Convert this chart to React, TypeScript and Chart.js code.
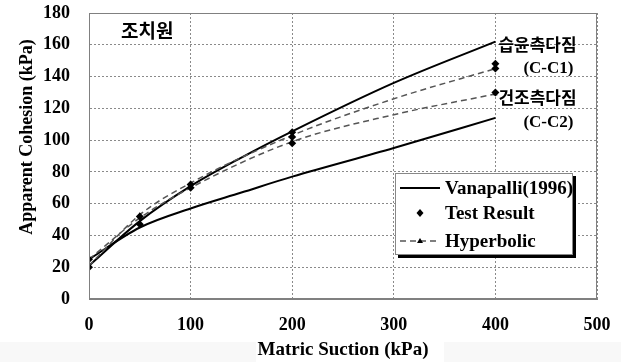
import { useEffect, useRef } from "react";
import { Chart, registerables } from "chart.js";

Chart.register(...registerables);

// ---- data ----
const vanX = [0, 50, 100, 150, 200, 300, 400];
const vanWet = [21, 49, 71, 89, 105.5, 136, 162];
const vanDry = [25, 45, 57, 67, 77, 95, 114];

const hypX = [0, 50, 100, 200, 300, 400];
const hypWet = [21, 53, 73, 103, 126, 145];
const hypDry = [25, 51, 70, 99, 116, 129];
const hypMarked = [0, 50, 100, 200, 400];

const testX = [0, 0, 50, 50, 100, 100, 200, 200, 200, 400, 400, 400];
const testY = [20, 25, 47, 52, 70, 72, 98, 102, 105, 130, 145, 148];

const xTicks = [0, 100, 200, 300, 400, 500];
const yTicks = [0, 20, 40, 60, 80, 100, 120, 140, 160, 180];

const siteLabel = "조치원";
const wetLabel = ["습윤측다짐", "(C-C1)"];
const dryLabel = ["건조측다짐", "(C-C2)"];
const legendLabels = ["Vanapalli(1996)", "Test Result", "Hyperbolic"];
const xTitle = "Matric Suction (kPa)";
const yTitle = "Apparent Cohesion (kPa)";

const SERIF = '"Liberation Serif", "Times New Roman", serif';
const KR = '"Noto Sans CJK KR", sans-serif';
const HYP_COLOR = "#555555";

const pts = (xs: number[], ys: number[]) => xs.map((x, i) => ({ x, y: ys[i] }));

const decorPlugin = {
  id: "decor",
  beforeDraw(chart: any) {
    const { ctx, width, height } = chart;
    ctx.save();
    ctx.fillStyle = "#ffffff";
    ctx.fillRect(0, 0, width, height);
    ctx.fillStyle = "#f8f8f8";
    ctx.fillRect(0, 342, width, height - 342);
    ctx.fillStyle = "#ffffff";
    ctx.fillRect(256, 340, 188, height - 340);
    ctx.restore();
  },
  afterDraw(chart: any) {
    const { ctx, chartArea: ca, scales } = chart;
    const xs = scales.x;
    const ys = scales.y;
    ctx.save();
    // plot frame
    ctx.strokeStyle = "#808080";
    ctx.lineWidth = 1;
    ctx.setLineDash([]);
    ctx.strokeRect(ca.left + 0.5, ca.top + 0.5, ca.right - ca.left - 1, ca.bottom - ca.top - 1);

    // axis titles
    ctx.fillStyle = "#000";
    ctx.font = `bold 19px ${SERIF}`;
    ctx.textAlign = "center";
    ctx.textBaseline = "middle";
    ctx.fillText(xTitle, (ca.left + ca.right) / 2, 350);
    ctx.save();
    ctx.font = `bold 18px ${SERIF}`;
    ctx.translate(27, 137);
    ctx.rotate(-Math.PI / 2);
    ctx.fillText(yTitle, 0, 0);
    ctx.restore();

    // site label
    ctx.font = `bold 19px ${KR}`;
    ctx.textAlign = "left";
    ctx.fillText(siteLabel, 121, 31);

    // curve labels
    const lx = xs.getPixelForValue(400) + 3;
    ctx.font = `bold 17px ${KR}`;
    ctx.fillText(wetLabel[0], lx, ys.getPixelForValue(160));
    ctx.fillText(dryLabel[0], lx, ys.getPixelForValue(127));
    ctx.font = `bold 17px ${SERIF}`;
    ctx.fillText(wetLabel[1], lx + 25, ys.getPixelForValue(145));
    ctx.fillText(dryLabel[1], lx + 25, ys.getPixelForValue(111));

    // legend box
    const bx = 395, by = 173, bw = 178, bh = 82;
    ctx.fillStyle = "#000";
    ctx.fillRect(bx + 3, by + 3, bw, bh);
    ctx.fillStyle = "#fff";
    ctx.fillRect(bx, by, bw, bh);
    ctx.strokeStyle = "#888";
    ctx.lineWidth = 1;
    ctx.strokeRect(bx + 0.5, by + 0.5, bw - 1, bh - 1);

    const rows = [188, 213, 241];
    const sx0 = 400, sx1 = 440, tx = 445;
    // Vanapalli sample
    ctx.strokeStyle = "#000";
    ctx.lineWidth = 2;
    ctx.beginPath();
    ctx.moveTo(sx0, rows[0]);
    ctx.lineTo(sx1, rows[0]);
    ctx.stroke();
    // Test result sample (diamond)
    ctx.fillStyle = "#000";
    const cx = (sx0 + sx1) / 2;
    ctx.beginPath();
    ctx.moveTo(cx, rows[1] - 4);
    ctx.lineTo(cx + 3.5, rows[1]);
    ctx.lineTo(cx, rows[1] + 4);
    ctx.lineTo(cx - 3.5, rows[1]);
    ctx.closePath();
    ctx.fill();
    // Hyperbolic sample
    ctx.strokeStyle = HYP_COLOR;
    ctx.lineWidth = 1.5;
    ctx.setLineDash([6, 4]);
    ctx.beginPath();
    ctx.moveTo(sx0, rows[2]);
    ctx.lineTo(sx1, rows[2]);
    ctx.stroke();
    ctx.setLineDash([]);
    ctx.fillStyle = "#000";
    ctx.beginPath();
    ctx.moveTo(cx, rows[2] - 3);
    ctx.lineTo(cx + 3, rows[2] + 2);
    ctx.lineTo(cx - 3, rows[2] + 2);
    ctx.closePath();
    ctx.fill();

    ctx.fillStyle = "#000";
    ctx.font = `bold 19px ${SERIF}`;
    ctx.textAlign = "left";
    ctx.textBaseline = "middle";
    legendLabels.forEach((t, i) => ctx.fillText(t, tx, rows[i] + 1));
    ctx.restore();
  },
};

export default function App() {
  const ref = useRef<HTMLCanvasElement | null>(null);

  useEffect(() => {
    document.body.style.margin = "0";
    const canvas = ref.current;
    if (!canvas) return;
    const tickFont = { family: SERIF, size: 18, weight: "bold" as const };
    const hypRadius = (c: any) => (hypMarked.includes(c.raw?.x) ? 2.5 : 0);

    const chart = new Chart(canvas, {
      type: "line",
      data: {
        datasets: [
          {
            label: legendLabels[1],
            data: pts(testX, testY),
            showLine: false,
            pointStyle: "rectRot",
            pointRadius: 4,
            backgroundColor: "#000",
            borderColor: "#000",
            borderWidth: 0,
          },
          {
            label: legendLabels[2] + " wet",
            data: pts(hypX, hypWet),
            borderColor: HYP_COLOR,
            borderWidth: 1.5,
            borderDash: [6, 4],
            cubicInterpolationMode: "monotone",
            pointStyle: "triangle",
            pointRadius: hypRadius,
            pointBackgroundColor: "#000",
            pointBorderColor: "#000",
            pointBorderWidth: 0,
          },
          {
            label: legendLabels[2] + " dry",
            data: pts(hypX, hypDry),
            borderColor: HYP_COLOR,
            borderWidth: 1.5,
            borderDash: [6, 4],
            cubicInterpolationMode: "monotone",
            pointStyle: "triangle",
            pointRadius: hypRadius,
            pointBackgroundColor: "#000",
            pointBorderColor: "#000",
            pointBorderWidth: 0,
          },
          {
            label: legendLabels[0] + " wet",
            data: pts(vanX, vanWet),
            borderColor: "#000",
            borderWidth: 2,
            cubicInterpolationMode: "monotone",
            pointRadius: 0,
          },
          {
            label: legendLabels[0] + " dry",
            data: pts(vanX, vanDry),
            borderColor: "#000",
            borderWidth: 2,
            cubicInterpolationMode: "monotone",
            pointRadius: 0,
          },
        ],
      },
      options: {
        responsive: false,
        animation: false,
        events: [],
        layout: { padding: { top: 13, right: 24, left: 0, bottom: 0 } },
        plugins: { legend: { display: false }, tooltip: { enabled: false } },
        scales: {
          x: {
            type: "linear",
            min: 0,
            max: 500,
            afterBuildTicks: (s: any) => {
              s.ticks = xTicks.map((v) => ({ value: v }));
            },
            afterFit: (s: any) => {
              s.height = 63;
              s.paddingLeft = 0;
              s.paddingRight = 0;
              s.paddingTop = 0;
              s.paddingBottom = 0;
            },
            grid: { color: "#8a8a8a", lineWidth: 1, drawTicks: false },
            border: { display: true, color: "#808080", width: 1, dash: [2, 2] },
            ticks: { color: "#000", font: tickFont, padding: 16, maxRotation: 0 },
          },
          y: {
            type: "linear",
            min: 0,
            max: 180,
            afterBuildTicks: (s: any) => {
              s.ticks = yTicks.map((v) => ({ value: v }));
            },
            afterFit: (s: any) => {
              s.width = 89;
              s.paddingTop = 0;
              s.paddingBottom = 0;
              s.paddingLeft = 0;
              s.paddingRight = 0;
            },
            grid: { color: "#8a8a8a", lineWidth: 1, drawTicks: false },
            border: { display: true, color: "#808080", width: 1, dash: [2, 2] },
            ticks: { color: "#000", font: tickFont, padding: 19 },
          },
        },
      },
      plugins: [decorPlugin],
    });
    return () => chart.destroy();
  }, []);

  return (
    <div style={{ width: 621, height: 362 }}>
      <canvas ref={ref} width={621} height={362} style={{ display: "block" }} />
    </div>
  );
}
